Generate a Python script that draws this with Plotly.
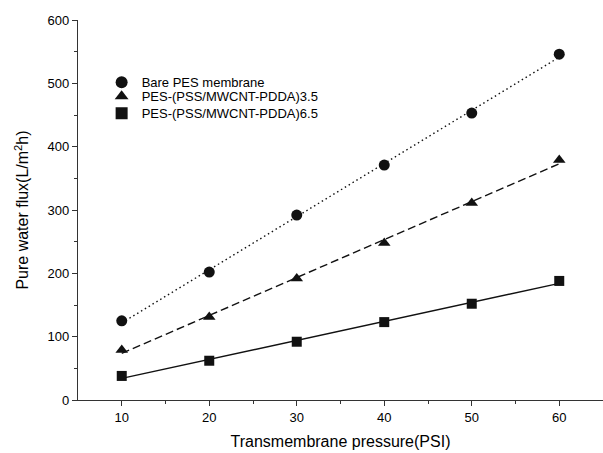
import numpy as np
import plotly.graph_objects as go

pressure = [10, 20, 30, 40, 50, 60]
bare_pes = [125, 202, 292, 371, 453, 546]
pes_35 = [79, 131, 192, 248, 311, 379]
pes_65 = [38, 62, 92, 123, 152, 188]

names = ["Bare PES membrane", "PES-(PSS/MWCNT-PDDA)3.5", "PES-(PSS/MWCNT-PDDA)6.5"]
symbols = ["circle", "triangle-up", "square"]
sizes = [11, 11, 10]
dashes = ["1.5px,3px", "8px,4px", "solid"]
legend_ids = ["legend", "legend2", "legend3"]
legend_tops = [0.8753, 0.8385, 0.7937]
series = [bare_pes, pes_35, pes_65]

fig = go.Figure()
x = np.array(pressure, dtype=float)
for name, ys, sym, sz, dsh in zip(names, series, symbols, sizes, dashes):
    k, b = np.polyfit(x, np.array(ys, dtype=float), 1)
    xf = np.array([pressure[0], pressure[-1]], dtype=float)
    fig.add_trace(go.Scatter(x=xf, y=k * xf + b, mode="lines",
                             line=dict(color="#111", width=1.4, dash=dsh),
                             showlegend=False, hoverinfo="skip"))
for name, ys, sym, sz, lid in zip(names, series, symbols, sizes, legend_ids):
    fig.add_trace(go.Scatter(x=pressure, y=ys, mode="markers", name=name, legend=lid,
                             marker=dict(symbol=sym, size=sz, color="#111")))

font = "Liberation Sans, Arial, sans-serif"
axis_common = dict(showline=True, linecolor="#333", linewidth=1.2, ticks="outside",
                   ticklen=5, tickwidth=1.2, tickcolor="#333", showgrid=False,
                   zeroline=False, tickfont=dict(family=font, size=13, color="#000"),
                   mirror=False)
legend_style = dict(x=0.045, xanchor="left", yanchor="top",
                    font=dict(family=font, size=13, color="#000"),
                    bgcolor="rgba(0,0,0,0)", itemsizing="constant")
layout_legends = {lid: dict(y=top, **legend_style) for lid, top in zip(legend_ids, legend_tops)}

fig.update_layout(
    width=603, height=453,
    margin=dict(l=78, r=0, t=20, b=53),
    plot_bgcolor="white", paper_bgcolor="white",
    font=dict(family=font, color="#000"),
    xaxis=dict(range=[5, 65], tickvals=[10, 20, 30, 40, 50, 60],
               minor=dict(tickvals=[15, 25, 35, 45, 55], ticks="outside", ticklen=3,
                          tickcolor="#333", tickwidth=1),
               title=dict(text="Transmembrane pressure(PSI)", font=dict(size=16, family=font),
                          standoff=12),
               **axis_common),
    yaxis=dict(range=[0, 600], tickvals=[0, 100, 200, 300, 400, 500, 600],
               minor=dict(tickvals=[50, 150, 250, 350, 450, 550], ticks="outside", ticklen=3,
                          tickcolor="#333", tickwidth=1),
               title=dict(text="Pure water flux(L/m<sup>2</sup>h)", font=dict(size=16, family=font),
                          standoff=14),
               **axis_common),
    **layout_legends,
)
fig.write_html("out.html", config={"displayModeBar": False},
               post_script="document.body.style.margin='0';")
